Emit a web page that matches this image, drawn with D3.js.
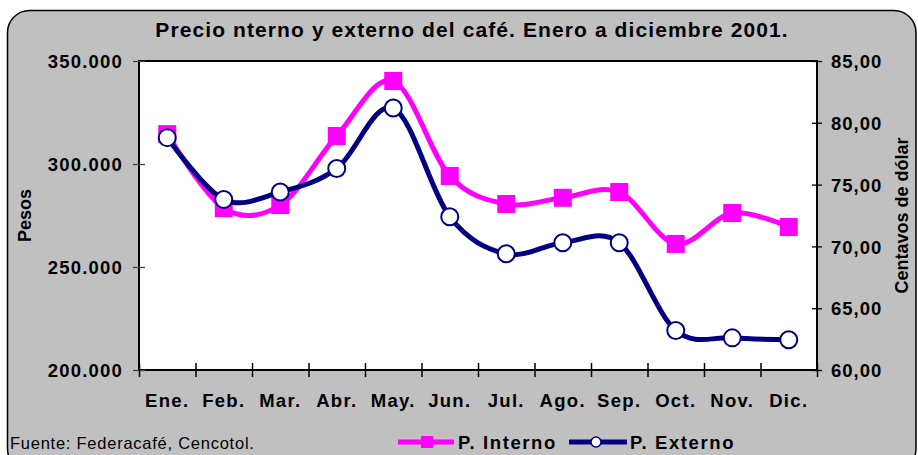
<!DOCTYPE html>
<html>
<head>
<meta charset="utf-8">
<script src="https://cdn.jsdelivr.net/npm/d3@7"></script>
<style>
  body { margin: 0; background: #fff; }
  svg { display: block; font-family: 'Liberation Sans', Arial, sans-serif; }
</style>
</head>
<body>
<svg id="chart" width="918" height="455"></svg>
<script>
// Data
const months = ['Ene.', 'Feb.', 'Mar.', 'Abr.', 'May.', 'Jun.', 'Jul.', 'Ago.', 'Sep.', 'Oct.', 'Nov.', 'Dic.'];
const interno = [314500, 278600, 280100, 313600, 340300, 294200, 280600, 283600, 286400, 261200, 276200, 269400];
const externo = [78.8, 73.8, 74.4, 76.3, 81.2, 72.4, 69.4, 70.3, 70.3, 63.2, 62.6, 62.45];
const pesosTicks = [200000, 250000, 300000, 350000];
const centTicks = [60, 65, 70, 75, 80, 85];

const svg = d3.select('#chart');
const W = 918, H = 455;
const margin = { top: 61, right: 101, bottom: 85, left: 139 };
const width = W - margin.left - margin.right;
const height = H - margin.top - margin.bottom;

// outer frame
svg.append('rect')
  .attr('x', 7.5).attr('y', 10.5)
  .attr('width', 916 - 7.5).attr('height', 460)
  .attr('rx', 22).attr('ry', 22)
  .attr('fill', '#c0c0c0')
  .attr('stroke', '#000')
  .attr('stroke-width', 1.5);

svg.append('text')
  .attr('x', 472).attr('y', 37)
  .attr('text-anchor', 'middle')
  .style('font-size', '21px').style('font-weight', 'bold')
  .style('letter-spacing', '1.1px')
  .text('Precio nterno y externo del café. Enero a diciembre 2001.');

const g = svg.append('g').attr('transform', 'translate(' + margin.left + ',' + margin.top + ')');

g.append('rect')
  .attr('width', width).attr('height', height)
  .attr('fill', '#fff');

// scales
const x = d3.scaleBand().domain(months).range([0, width]).padding(0);
const xEdge = d3.scaleLinear().domain([0, months.length]).range([0, width]);
const yL = d3.scaleLinear().domain([200000, 350000]).range([height, 0]);
const yR = d3.scaleLinear().domain([60, 85]).range([height, 0]);
const cx = (i) => x(months[i]) + x.bandwidth() / 2;

// plot border
g.append('rect')
  .attr('width', width).attr('height', height)
  .attr('fill', 'none').attr('stroke', '#000').attr('stroke-width', 2);

// left axis
const fmtPesos = (d) => d3.format(',')(d).replace(/,/g, '.');
const leftAx = g.append('g')
  .call(d3.axisLeft(yL).tickValues(pesosTicks).tickFormat(fmtPesos).tickSize(6));
leftAx.select('.domain').remove();
leftAx.selectAll('.tick line').attr('x1', 6).attr('stroke', '#444').attr('stroke-width', 1.3);
leftAx.selectAll('.tick text')
  .attr('x', -16).attr('dy', '0.36em')
  .style('font-size', '18.5px').style('font-weight', 'bold')
  .style('letter-spacing', '1.2px').attr('fill', '#000');

// right axis
const fmtCent = (d) => d3.format('.2f')(d).replace('.', ',');
const rightAx = g.append('g').attr('transform', 'translate(' + width + ',0)')
  .call(d3.axisRight(yR).tickValues(centTicks).tickFormat(fmtCent).tickSize(5));
rightAx.select('.domain').remove();
rightAx.selectAll('.tick line').attr('x1', -5).attr('stroke', '#000').attr('stroke-width', 1.3);
rightAx.selectAll('.tick text')
  .attr('x', 14).attr('dy', '0.36em')
  .style('font-size', '18.5px').style('font-weight', 'bold')
  .style('letter-spacing', '1px').attr('fill', '#000');

// bottom ticks at band edges
const edgeAx = g.append('g').attr('transform', 'translate(0,' + height + ')')
  .call(d3.axisBottom(xEdge).tickValues(d3.range(months.length + 1)).tickFormat('').tickSize(7));
edgeAx.select('.domain').remove();
edgeAx.selectAll('.tick line').attr('y1', -7).attr('stroke', '#000').attr('stroke-width', 1.5);

// month labels
const monAx = g.append('g').attr('transform', 'translate(0,' + height + ')')
  .call(d3.axisBottom(x).tickSize(0));
monAx.select('.domain').remove();
monAx.selectAll('.tick text')
  .attr('y', 24).attr('dy', '0.71em')
  .style('font-size', '18.5px').style('font-weight', 'bold')
  .style('letter-spacing', '1.3px').attr('fill', '#000');

// axis titles
svg.append('text')
  .attr('transform', 'translate(31,' + (margin.top + height / 2) + ') rotate(-90)')
  .attr('text-anchor', 'middle')
  .style('font-size', '18px').style('font-weight', 'bold')
  .text('Pesos');

svg.append('text')
  .attr('transform', 'translate(908,' + (margin.top + height / 2) + ') rotate(-90)')
  .attr('text-anchor', 'middle')
  .style('font-size', '18px').style('font-weight', 'bold')
  .text('Centavos de dólar');

// lines
const curve = d3.curveCatmullRom.alpha(0);
const lineL = d3.line().x((d, i) => cx(i)).y((d) => yL(d)).curve(curve);
const lineR = d3.line().x((d, i) => cx(i)).y((d) => yR(d)).curve(curve);

g.append('path').datum(interno)
  .attr('d', lineL).attr('fill', 'none')
  .attr('stroke', '#ff00ff').attr('stroke-width', 5);

g.selectAll('.sq').data(interno).enter().append('rect')
  .attr('class', 'sq')
  .attr('x', (d, i) => cx(i) - 9).attr('y', (d) => yL(d) - 9)
  .attr('width', 18).attr('height', 18)
  .attr('fill', '#ff00ff');

g.append('path').datum(externo)
  .attr('d', lineR).attr('fill', 'none')
  .attr('stroke', '#000080').attr('stroke-width', 5);

g.selectAll('.ci').data(externo).enter().append('circle')
  .attr('class', 'ci')
  .attr('cx', (d, i) => cx(i)).attr('cy', (d) => yR(d))
  .attr('r', 8.5)
  .attr('fill', '#fff').attr('stroke', '#000080').attr('stroke-width', 2);

// source
svg.append('text')
  .attr('x', 10).attr('y', 449)
  .style('font-size', '16.5px')
  .style('letter-spacing', '0.75px')
  .text('Fuente: Federacafé, Cencotol.');

// legend
const leg = svg.append('g');
leg.append('line').attr('x1', 398).attr('x2', 454).attr('y1', 442).attr('y2', 442)
  .attr('stroke', '#ff00ff').attr('stroke-width', 5);
leg.append('rect').attr('x', 421).attr('y', 436).attr('width', 12).attr('height', 12)
  .attr('fill', '#ff00ff');
leg.append('text').attr('x', 458).attr('y', 449)
  .style('font-size', '18.5px').style('font-weight', 'bold').style('letter-spacing', '1.6px')
  .text('P. Interno');
leg.append('line').attr('x1', 569).attr('x2', 627).attr('y1', 442).attr('y2', 442)
  .attr('stroke', '#000080').attr('stroke-width', 5);
leg.append('circle').attr('cx', 596).attr('cy', 442).attr('r', 5)
  .attr('fill', '#fff').attr('stroke', '#000080').attr('stroke-width', 1.5);
leg.append('text').attr('x', 630).attr('y', 449)
  .style('font-size', '18.5px').style('font-weight', 'bold').style('letter-spacing', '1.6px')
  .text('P. Externo');
</script>
</body>
</html>
